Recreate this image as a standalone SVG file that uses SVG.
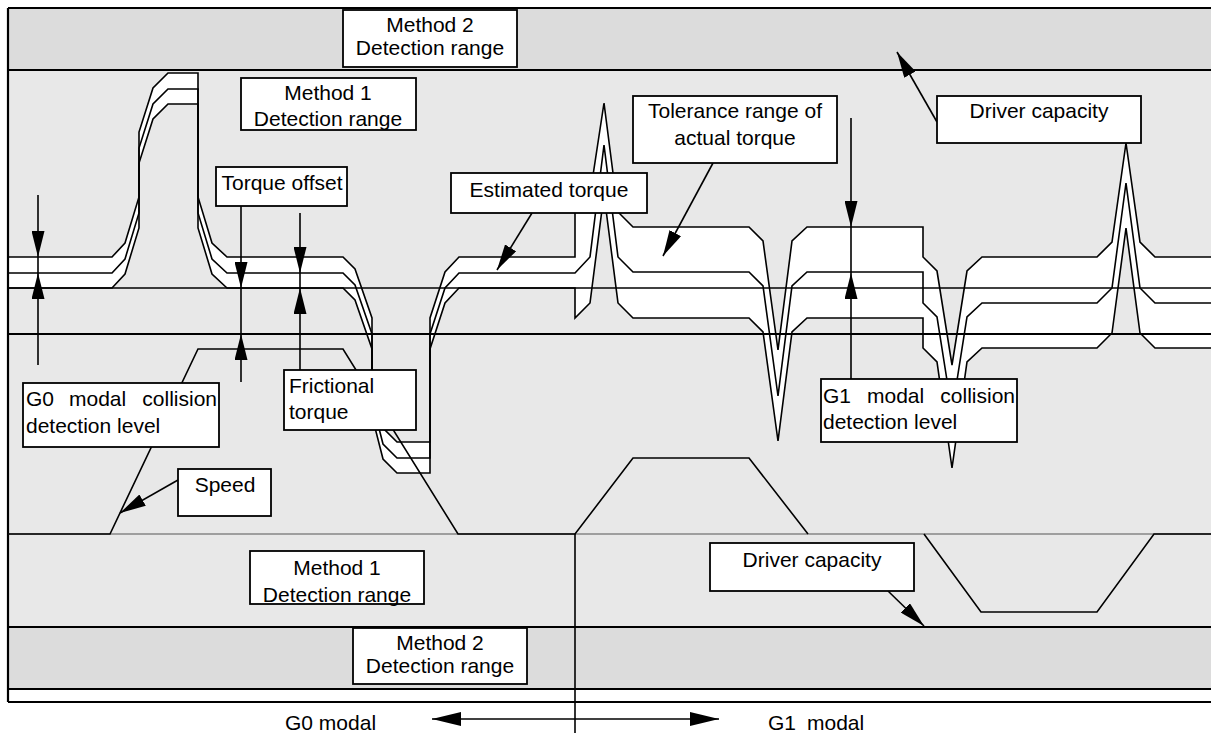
<svg xmlns="http://www.w3.org/2000/svg" width="1211" height="733" viewBox="0 0 1211 733">
<defs>
<marker id="ah" markerUnits="userSpaceOnUse" markerWidth="26" markerHeight="13" viewBox="0 0 26 13" refX="26" refY="6.5" orient="auto-start-reverse"><path d="M0,0 L26,6.5 L0,13 z" fill="#000"/></marker>
<marker id="ahb" markerUnits="userSpaceOnUse" markerWidth="29" markerHeight="14" viewBox="0 0 29 14" refX="29" refY="7" orient="auto-start-reverse"><path d="M0,0 L29,7 L0,14 z" fill="#000"/></marker>
</defs>
<style>
.box{fill:#fff;stroke:#000;stroke-width:1.8}
.t{font-family:"Liberation Sans",Arial,sans-serif;font-size:21px;fill:#000}
.c{text-anchor:middle}
.e{text-anchor:end}
.tl{fill:none;stroke:#000;stroke-width:1.6;stroke-linejoin:miter}
.ln{stroke:#000;stroke-width:1.6;fill:none}
.bd{stroke:#000;stroke-width:2.2;fill:none}
.arr{stroke:#000;stroke-width:1.6;fill:none;marker-end:url(#ah)}
</style>
<g id="background">
<rect x="0" y="0" width="1211" height="733" fill="#fff"/>
<rect x="8" y="8" width="1203" height="62" fill="#dcdcdc"/>
<rect x="8" y="70" width="1203" height="557" fill="#e8e8e8"/>
<rect x="8" y="627" width="1203" height="62" fill="#dcdcdc"/>
<rect x="8" y="689" width="1203" height="13" fill="#fff"/>
</g>
<g id="torque-band">
<polygon fill="#fff" points="8,257 112,257 125,243 139,197 139,132 153,88 168,73 198,73 198,197 212,243 227,257 343,257 355,269 372,318 372,385 383,428 397,442 430,442 430,318 445,272 459,257 575,257 575,205 590,195 604,103 618,212 633,227 749,227 763,241 778,350 792,241 807,227 923,227 923,257 937,271 952,365 967,271 982,257 1097,257 1112,242 1126,143 1140,242 1155,257 1211,257 1211,348 1155,348 1140,333 1126,228 1112,333 1097,348 982,348 967,362 952,468 937,362 923,348 923,318 807,318 792,332 778,441 763,332 749,318 633,318 618,303 604,194 590,303 575,318 575,288 459,288 445,303 430,349 430,473 397,473 383,459 372,416 372,349 355,300 343,288 227,288 212,274 198,228 198,104 168,104 153,119 139,163 139,228 125,274 112,288 8,288"/>
</g>
<g id="frame">
<line class="bd" x1="8" y1="8" x2="1211" y2="8"/>
<line class="bd" x1="8" y1="8" x2="8" y2="702"/>
<line class="bd" x1="8" y1="70" x2="1211" y2="70"/>
<line class="bd" x1="8" y1="627" x2="1211" y2="627"/>
<line class="bd" x1="8" y1="689" x2="1211" y2="689"/>
<line class="bd" x1="8" y1="702" x2="1211" y2="702"/>
<line x1="8" y1="534" x2="1211" y2="534" stroke="#555" stroke-width="1.2"/>
<line x1="8" y1="288" x2="1211" y2="288" stroke="#000" stroke-width="1.4"/>
<line x1="8" y1="334" x2="1211" y2="334" stroke="#000" stroke-width="2.2"/>
<line class="ln" x1="575" y1="534" x2="575" y2="733"/>
</g>
<g id="torque-lines">
<polyline class="tl" points="8,257 112,257 125,243 139,197 139,132 153,88 168,73 198,73 198,197 212,243 227,257 343,257 355,269 372,318 372,385 383,428 397,442 430,442 430,318 445,272 459,257 575,257 575,205 590,195 604,103 618,212 633,227 749,227 763,241 778,350 792,241 807,227 923,227 923,257 937,271 952,365 967,271 982,257 1097,257 1112,242 1126,143 1140,242 1155,257 1211,257"/>
<polyline class="tl" points="8,273 112,273 125,259 139,213 139,148 153,104 168,89 198,89 198,213 212,259 227,273 343,273 355,285 372,334 372,401 383,444 397,458 430,458 430,334 445,288 459,273 575,273 590,257 604,145 618,257 633,272 749,272 763,286 778,396 792,286 807,272 923,272 923,303 937,317 952,412 967,317 982,303 1097,303 1112,288 1126,183 1140,288 1155,303 1211,303"/>
<polyline class="tl" points="8,288 112,288 125,274 139,228 139,163 153,119 168,104 198,104 198,228 212,274 227,288 343,288 355,300 372,349 372,416 383,459 397,473 430,473 430,349 445,303 459,288 575,288 575,318 590,303 604,194 618,303 633,318 749,318 763,332 778,441 792,332 807,318 923,318 923,348 937,362 952,468 967,362 982,348 1097,348 1112,333 1126,228 1140,333 1155,348 1211,348"/>
</g>
<g id="speed-line">
<polyline class="tl" points="8,534 110,534 198,349 343,349 458,534 575,534 633,458 749,458 808,534"/>
<polyline class="tl" points="924,534 981,612 1097,612 1154,534 1211,534"/>
</g>
<g id="connectors">
<line class="arr" x1="38" y1="195" x2="38" y2="257"/>
<line class="ln" x1="38" y1="257" x2="38" y2="273"/>
<line class="arr" x1="38" y1="365" x2="38" y2="273"/>
<line class="arr" x1="241" y1="206" x2="241" y2="288"/>
<line class="ln" x1="241" y1="288" x2="241" y2="334"/>
<line class="arr" x1="241" y1="382" x2="241" y2="334"/>
<line class="arr" x1="300" y1="213" x2="300" y2="273"/>
<line class="ln" x1="300" y1="273" x2="300" y2="288"/>
<line class="arr" x1="300" y1="370" x2="300" y2="288"/>
<line class="arr" x1="851" y1="118" x2="851" y2="227"/>
<line class="ln" x1="851" y1="227" x2="851" y2="273"/>
<line class="arr" x1="851" y1="379" x2="851" y2="273"/>
<line class="arr" x1="532" y1="213" x2="497" y2="270"/>
<line class="arr" x1="713" y1="163" x2="663" y2="256"/>
<line class="arr" x1="937" y1="122" x2="897" y2="52"/>
<line class="arr" x1="178" y1="480" x2="120" y2="513"/>
<line class="arr" x1="888" y1="591" x2="924" y2="626"/>
<line x1="432" y1="719" x2="719" y2="719" stroke="#000" stroke-width="1.6" marker-start="url(#ahb)" marker-end="url(#ahb)"/>
</g>
<g id="node-method2-top">
<rect class="box" x="343" y="10" width="174" height="57"/>
<text class="t c" x="430" y="32">Method 2</text>
<text class="t c" x="430" y="55">Detection range</text>
</g>
<g id="node-method1-top">
<rect class="box" x="241" y="78" width="175" height="52"/>
<text class="t c" x="328" y="100">Method 1</text>
<text class="t c" x="328" y="126">Detection range</text>
</g>
<g id="node-torque-offset">
<rect class="box" x="216" y="167" width="131" height="39"/>
<text class="t c" x="282" y="190">Torque offset</text>
</g>
<g id="node-estimated-torque">
<rect class="box" x="451" y="173" width="196" height="40"/>
<text class="t c" x="549" y="197">Estimated torque</text>
</g>
<g id="node-tolerance">
<rect class="box" x="633" y="96" width="204" height="67"/>
<text class="t c" x="735" y="118">Tolerance range of</text>
<text class="t c" x="735" y="145">actual torque</text>
</g>
<g id="node-driver-capacity-top">
<rect class="box" x="937" y="96" width="204" height="47"/>
<text class="t c" x="1039" y="118">Driver capacity</text>
</g>
<g id="node-g0-level">
<rect class="box" x="23" y="383" width="196" height="64"/>
<text class="t" y="406"><tspan x="26">G0</tspan><tspan x="69">modal</tspan><tspan x="217" text-anchor="end">collision</tspan></text>
<text class="t" x="26" y="433">detection level</text>
</g>
<g id="node-frictional">
<rect class="box" x="284" y="370" width="132" height="60"/>
<text class="t" x="289" y="393">Frictional</text>
<text class="t" x="289" y="419">torque</text>
</g>
<g id="node-g1-level">
<rect class="box" x="821" y="379" width="196" height="63"/>
<text class="t" y="403"><tspan x="823">G1</tspan><tspan x="867">modal</tspan><tspan x="1015" text-anchor="end">collision</tspan></text>
<text class="t" x="823" y="429">detection level</text>
</g>
<g id="node-speed">
<rect class="box" x="178" y="469" width="93" height="47"/>
<text class="t c" x="225" y="492">Speed</text>
</g>
<g id="node-method1-bottom">
<rect class="box" x="250" y="551" width="174" height="53"/>
<text class="t c" x="337" y="575">Method 1</text>
<text class="t c" x="337" y="602">Detection range</text>
</g>
<g id="node-method2-bottom">
<rect class="box" x="353" y="628" width="174" height="56"/>
<text class="t c" x="440" y="650">Method 2</text>
<text class="t c" x="440" y="673">Detection range</text>
</g>
<g id="node-driver-capacity-bottom">
<rect class="box" x="710" y="543" width="204" height="48"/>
<text class="t c" x="812" y="567">Driver capacity</text>
</g>
<g id="axis-labels">
<text class="t" x="285" y="730">G0 modal</text>
<text class="t" y="730"><tspan x="768">G1</tspan><tspan x="807">modal</tspan></text>
</g>
</svg>
